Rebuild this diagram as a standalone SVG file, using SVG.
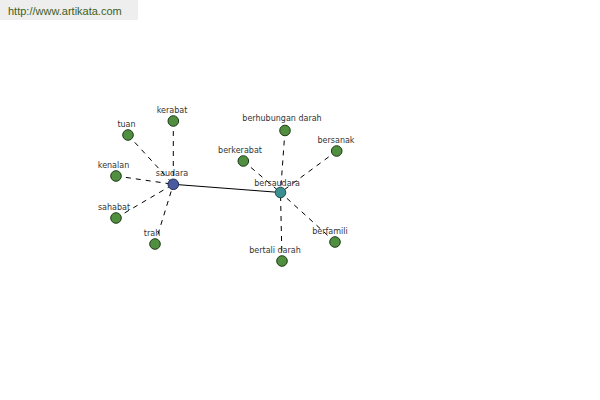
<svg xmlns="http://www.w3.org/2000/svg" width="600" height="400" viewBox="0 0 600 400">
<style>
.lbl{font-family:"DejaVu Sans","Liberation Sans",sans-serif;font-size:8px;fill:#333;text-anchor:middle}
.leaf{fill:#4f8f3f;stroke:#1f3a18;stroke-width:1}
.dash{stroke:#000;stroke-width:1;stroke-dasharray:5,5;fill:none}
.solid{stroke:#000;stroke-width:1;fill:none}
</style>
<rect width="600" height="400" fill="#fff"/>
<g id="header">
<rect x="0" y="0" width="138" height="20" fill="#eeeeee"/>
<text x="8" y="15" style="font-family:'Liberation Sans',Arial,sans-serif;font-size:11px;fill:#3f5f22">http://www.artikata.com</text>
</g>
<g id="connectors">
<line class="solid" x1="173.3" y1="184.3" x2="280.5" y2="192.5"/>
<line class="dash" x1="173.3" y1="121" x2="173.3" y2="184.3"/>
<line class="dash" x1="128" y1="135" x2="173.3" y2="184.3"/>
<line class="dash" x1="116" y1="176" x2="173.3" y2="184.3"/>
<line class="dash" x1="116" y1="218" x2="173.3" y2="184.3"/>
<line class="dash" x1="155" y1="244" x2="173.3" y2="184.3"/>
<line class="dash" x1="285" y1="130.5" x2="280.5" y2="192.5"/>
<line class="dash" x1="336.7" y1="151" x2="280.5" y2="192.5"/>
<line class="dash" x1="243.3" y1="161" x2="280.5" y2="192.5"/>
<line class="dash" x1="335" y1="242" x2="280.5" y2="192.5"/>
<line class="dash" x1="282" y1="261" x2="280.5" y2="192.5"/>
</g>
<g id="saudara"><circle cx="173.3" cy="184.3" r="5.3" fill="#4a5aa0" stroke="#1f2a55"/><text class="lbl" x="172" y="176">saudara</text></g>
<g id="bersaudara"><circle cx="280.5" cy="192.5" r="5.3" fill="#3a9090" stroke="#1f4a4a"/><text class="lbl" x="277" y="185.5">bersaudara</text></g>
<g id="kerabat"><circle class="leaf" cx="173.3" cy="121" r="5.3"/><text class="lbl" x="172" y="112.5">kerabat</text></g>
<g id="tuan"><circle class="leaf" cx="128" cy="135" r="5.3"/><text class="lbl" x="126.5" y="126.5">tuan</text></g>
<g id="kenalan"><circle class="leaf" cx="116" cy="176" r="5.3"/><text class="lbl" x="113.5" y="167.5">kenalan</text></g>
<g id="sahabat"><circle class="leaf" cx="116" cy="218" r="5.3"/><text class="lbl" x="114" y="209.5">sahabat</text></g>
<g id="trah"><circle class="leaf" cx="155" cy="244" r="5.3"/><text class="lbl" x="152" y="235.5">trah</text></g>
<g id="berhubungan-darah"><circle class="leaf" cx="285" cy="130.5" r="5.3"/><text class="lbl" x="282" y="121">berhubungan darah</text></g>
<g id="bersanak"><circle class="leaf" cx="336.7" cy="151" r="5.3"/><text class="lbl" x="336" y="142.5">bersanak</text></g>
<g id="berkerabat"><circle class="leaf" cx="243.3" cy="161" r="5.3"/><text class="lbl" x="240" y="152.5">berkerabat</text></g>
<g id="berfamili"><circle class="leaf" cx="335" cy="242" r="5.3"/><text class="lbl" x="330" y="233.5">berfamili</text></g>
<g id="bertali-darah"><circle class="leaf" cx="282" cy="261" r="5.3"/><text class="lbl" x="275" y="252.5">bertali darah</text></g>
</svg>
